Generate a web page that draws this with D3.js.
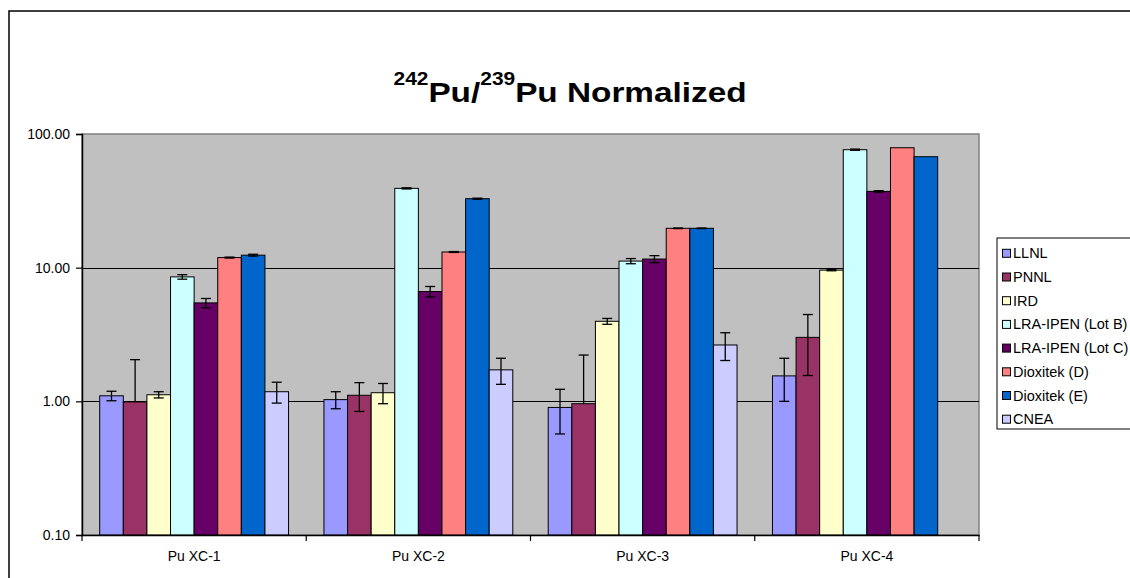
<!DOCTYPE html>
<html><head><meta charset="utf-8">
<script src="https://cdn.jsdelivr.net/npm/d3@7"></script>
<style>body{margin:0;background:#fff}svg{display:block}text{font-family:Arial,"Liberation Sans",sans-serif}</style>
</head><body>
<svg id="c" width="1130" height="578"></svg>
<script>
const categories = ["Pu XC-1","Pu XC-2","Pu XC-3","Pu XC-4"];
const seriesNames = ["LLNL","PNNL","IRD","LRA-IPEN (Lot B)","LRA-IPEN (Lot C)","Dioxitek (D)","Dioxitek (E)","CNEA"];
const seriesColors = ["#9999FF","#993366","#FFFFCC","#CCFFFF","#660066","#FF8080","#0066CC","#CCCCFF"];
// values per series, one per category
const LLNL   = [1.10, 1.03, 0.90, 1.55];
const PNNL   = [0.99, 1.11, 0.96, 3.01];
const IRD    = [1.12, 1.16, 3.97, 9.58];
const LRA_B  = [8.53, 39.2, 11.2, 76.3];
const LRA_C  = [5.45, 6.63, 11.6, 37.2];
const DIOX_D = [11.9, 13.1, 19.7, 78.9];
const DIOX_E = [12.4, 32.8, 19.7, 67.6];
const CNEA   = [1.18, 1.72, 2.64, null];
// error bar half-widths (same layout)
const LLNL_err   = [0.09, 0.15, 0.33, 0.55];
const PNNL_err   = [1.06, 0.27, 1.26, 1.45];
const IRD_err    = [0.06, 0.20, 0.20, 0.10];
const LRA_B_err  = [0.33, 0.40, 0.50, 0.80];
const LRA_C_err  = [0.43, 0.60, 0.70, 0.50];
const DIOX_D_err = [0.10, 0.10, 0.10, 0.00];
const DIOX_E_err = [0.20, 0.30, 0.10, 0.00];
const CNEA_err   = [0.21, 0.38, 0.62, null];
const yTicks = [0.1, 1, 10, 100];

const values = [LLNL,PNNL,IRD,LRA_B,LRA_C,DIOX_D,DIOX_E,CNEA];
const errs = [LLNL_err,PNNL_err,IRD_err,LRA_B_err,LRA_C_err,DIOX_D_err,DIOX_E_err,CNEA_err];

const svg = d3.select("#c");
const L = 82, R = 979, T = 134, B = 535;

// outer chart border
svg.append("rect").attr("x",9).attr("y",11).attr("width",1140).attr("height",600)
  .attr("fill","#fff").attr("stroke","#000").attr("stroke-width",1.5);

// title
const tg = svg.append("g").attr("transform","translate(570,102) scale(1.19,1)");
const tt = tg.append("text").attr("text-anchor","middle").attr("font-weight","bold").attr("font-size",28);
tt.append("tspan").attr("font-size",17.6).attr("dy",-17).text("242");
tt.append("tspan").attr("dy",17).text("Pu/");
tt.append("tspan").attr("font-size",17.6).attr("dy",-17).text("239");
tt.append("tspan").attr("dy",17).text("Pu Normalized");

const x0 = d3.scaleBand().domain(categories).range([L,R]).padding(0);
const cw = x0.bandwidth();
const bw = cw/9.5;
const x1 = d3.scaleBand().domain(seriesNames).range([0.75*bw, cw-0.75*bw]).padding(0);
const y = d3.scaleLog().domain([0.1,100]).range([B,T]);

// plot area
svg.append("rect").attr("x",L).attr("y",T).attr("width",R-L).attr("height",B-T)
  .attr("fill","#C0C0C0").attr("stroke","#808080").attr("stroke-width",1.5);

// gridlines
svg.append("g").selectAll("line").data(yTicks.filter(d=>d>0.1 && d<100)).join("line")
  .attr("x1",L).attr("x2",R).attr("y1",d=>Math.round(y(d))+0.5).attr("y2",d=>Math.round(y(d))+0.5)
  .attr("stroke","#000").attr("stroke-width",1);

// bars
const data = [];
categories.forEach((c,ci)=>seriesNames.forEach((s,si)=>{
  const v = values[si][ci];
  if (v!=null) data.push({c,s,si,v,e:errs[si][ci]});
}));
svg.append("g").selectAll("rect").data(data).join("rect")
  .attr("x",d=>x0(d.c)+x1(d.s)).attr("width",x1.bandwidth())
  .attr("y",d=>y(d.v)).attr("height",d=>B-y(d.v))
  .attr("fill",d=>seriesColors[d.si]).attr("stroke","#000").attr("stroke-width",1);

// error bars
const eg = svg.append("g").attr("stroke","#000").attr("stroke-width",1.3);
data.forEach(d=>{
  if (!d.e) return;
  const cx = x0(d.c)+x1(d.s)+x1.bandwidth()/2;
  const hi = y(d.v+d.e);
  const lowOk = d.v-d.e>0;
  const lo = lowOk ? y(d.v-d.e) : y(d.v);
  eg.append("line").attr("x1",cx).attr("x2",cx).attr("y1",hi).attr("y2",lo);
  eg.append("line").attr("x1",cx-5).attr("x2",cx+5).attr("y1",hi).attr("y2",hi);
  if (lowOk) eg.append("line").attr("x1",cx-5).attr("x2",cx+5).attr("y1",lo).attr("y2",lo);
});

// y axis
const ya = svg.append("g").attr("transform",`translate(${L},0)`)
  .call(d3.axisLeft(y).tickValues(yTicks).tickFormat(d3.format(".2f")).tickSize(6).tickPadding(6));
ya.select(".domain").attr("stroke","#000").attr("stroke-width",1.5);
ya.selectAll(".tick line").attr("stroke","#000").attr("stroke-width",1.2);
ya.selectAll("text").attr("font-size",14).attr("font-family","Arial,'Liberation Sans',sans-serif").attr("fill","#000");

// x axis
const xa = svg.append("g").attr("transform",`translate(0,${B})`)
  .call(d3.axisBottom(x0).tickSize(0).tickPadding(16));
xa.select(".domain").attr("stroke","#000").attr("stroke-width",1.5);
xa.selectAll("text").attr("font-size",14).attr("font-family","Arial,'Liberation Sans',sans-serif").attr("fill","#000");
svg.append("g").selectAll("line").data(d3.range(categories.length+1)).join("line")
  .attr("x1",i=>L+i*cw).attr("x2",i=>L+i*cw).attr("y1",B).attr("y2",B+6)
  .attr("stroke","#000").attr("stroke-width",1.2);

// legend
svg.append("rect").attr("x",997).attr("y",238).attr("width",200).attr("height",191)
  .attr("fill","#fff").attr("stroke","#000").attr("stroke-width",1);
const lg = svg.append("g").selectAll("g").data(seriesNames).join("g")
  .attr("transform",(d,i)=>`translate(1002,${253.3+i*23.7})`);
lg.append("rect").attr("x",0.5).attr("y",-4).attr("width",8).attr("height",8)
  .attr("fill",(d,i)=>seriesColors[i]).attr("stroke","#000").attr("stroke-width",1);
lg.append("text").attr("x",11).attr("y",5).attr("font-size",14.5).text(d=>d);
</script>
</body></html>
